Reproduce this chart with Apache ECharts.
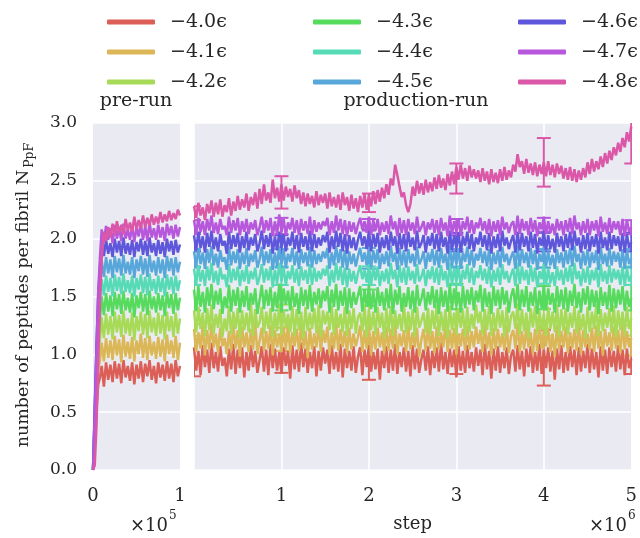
<!DOCTYPE html>
<html><head><meta charset="utf-8">
<script src="https://cdn.jsdelivr.net/npm/echarts@6/dist/echarts.min.js"></script>
<style>html,body{margin:0;padding:0;background:#fff}#c{width:640px;height:538px}</style>
</head><body><div id="c"></div>
<script>
const seriesNames = ['−4.0ϵ','−4.1ϵ','−4.2ϵ','−4.3ϵ','−4.4ϵ','−4.5ϵ','−4.6ϵ','−4.7ϵ','−4.8ϵ'];
const seriesColors = ['#db5f57','#dbb757','#a7db57','#57db5f','#57dbb7','#57a7db','#5f57db','#b757db','#db57a7'];
const yTickLabels = ['0.0','0.5','1.0','1.5','2.0','2.5','3.0'];
const preTickLabels = ['0','1'];
const prodTickLabels = ['','1','2','3','4','5'];

// pre-run (steps 0 .. 1e5)
const preSteps = [0,2000,4000,6000,8000,10000,12500,15000,17500,20000,22500,25000,27500,30000,32500,35000,37500,40000,42500,45000,47500,50000,52500,55000,57500,60000,62500,65000,67500,70000,72500,75000,77500,80000,82500,85000,87500,90000,92500,95000,97500,100000];
const pre40 = [0,0.22,0.52,0.74,0.80,0.90,0.72,0.93,0.78,0.91,0.76,0.94,0.79,0.92,0.75,0.95,0.80,0.90,0.77,0.93,0.74,0.91,0.79,0.94,0.76,0.92,0.81,0.95,0.78,0.90,0.75,0.93,0.80,0.91,0.77,0.94,0.79,0.92,0.76,0.95,0.81,0.90];
const pre41 = [0,0.28,0.60,0.86,0.95,1.10,0.94,1.14,0.97,1.12,0.95,1.16,0.99,1.13,0.93,1.17,0.98,1.11,0.96,1.15,0.94,1.12,1.00,1.18,0.97,1.14,0.95,1.16,0.99,1.11,0.96,1.15,0.98,1.13,0.94,1.17,1.00,1.12,0.97,1.16,0.95,1.10];
const pre42 = [0,0.33,0.70,1.00,1.12,1.32,1.14,1.35,1.17,1.33,1.13,1.37,1.19,1.34,1.15,1.38,1.18,1.31,1.16,1.36,1.12,1.33,1.20,1.37,1.17,1.35,1.14,1.38,1.19,1.32,1.16,1.36,1.18,1.34,1.13,1.37,1.20,1.33,1.15,1.36,1.18,1.31];
const pre43 = [0,0.38,0.80,1.15,1.30,1.50,1.34,1.53,1.37,1.51,1.33,1.54,1.39,1.52,1.35,1.55,1.38,1.49,1.36,1.53,1.32,1.51,1.40,1.54,1.37,1.52,1.34,1.55,1.39,1.50,1.36,1.53,1.38,1.51,1.33,1.54,1.40,1.52,1.35,1.53,1.38,1.49];
const pre44 = [0,0.44,0.90,1.28,1.46,1.65,1.51,1.68,1.54,1.66,1.50,1.69,1.55,1.67,1.52,1.70,1.54,1.64,1.53,1.68,1.50,1.66,1.56,1.69,1.53,1.67,1.51,1.70,1.55,1.65,1.52,1.68,1.54,1.66,1.50,1.69,1.56,1.67,1.52,1.68,1.55,1.64];
const pre45 = [0,0.50,1.00,1.40,1.60,1.81,1.67,1.84,1.70,1.82,1.66,1.85,1.71,1.83,1.68,1.86,1.70,1.80,1.69,1.84,1.66,1.82,1.72,1.85,1.69,1.83,1.67,1.86,1.71,1.81,1.68,1.84,1.70,1.82,1.66,1.85,1.72,1.83,1.68,1.84,1.71,1.80];
const pre46 = [0,0.55,1.08,1.52,1.74,1.97,1.85,1.99,1.87,1.96,1.84,2.00,1.88,1.98,1.85,2.01,1.87,1.96,1.86,1.99,1.84,1.97,1.89,2.00,1.86,1.98,1.85,2.01,1.88,1.96,1.85,1.99,1.87,1.97,1.84,2.00,1.89,1.98,1.86,1.99,1.88,1.95];
const pre47 = [0,0.50,1.04,1.54,1.84,2.08,1.97,2.11,1.99,2.09,1.96,2.12,2.00,2.10,1.98,2.13,2.00,2.08,1.99,2.11,1.97,2.10,2.02,2.13,1.99,2.11,1.98,2.14,2.01,2.09,1.99,2.12,2.01,2.10,1.98,2.13,2.03,2.11,2.00,2.12,2.02,2.10];
const pre48 = [0,0.04,0.38,0.92,1.45,1.82,2.06,1.98,2.10,2.01,2.13,2.03,2.15,2.05,2.12,2.04,2.17,2.07,2.14,2.06,2.19,2.08,2.16,2.09,2.20,2.10,2.18,2.11,2.21,2.12,2.19,2.13,2.23,2.14,2.21,2.15,2.24,2.16,2.22,2.17,2.25,2.20];

// production-run (steps 0 .. 5e6, one value every 25000 steps)
const prodStepSize = 25000;
const prod40 = [1.06,0.86,1.03,0.82,1.08,0.89,1.04,0.84,1.10,0.88,
1.02,0.85,1.07,0.90,0.97,0.81,1.05,0.87,1.09,0.83,
1.04,0.88,1.06,0.80,1.02,0.86,1.08,0.89,1.03,0.84,
0.95,1.07,0.85,1.04,0.82,1.09,0.88,1.05,0.86,1.02,
0.83,1.06,0.90,1.03,0.79,1.08,0.87,1.04,0.85,1.10,
0.89,1.05,0.84,1.02,0.88,1.07,0.81,1.03,0.86,1.06,
0.92,1.04,0.83,1.08,0.87,1.02,0.85,1.09,0.80,1.05,
0.88,1.03,0.86,1.07,0.84,0.98,1.06,0.82,1.04,0.89,
1.08,0.85,1.02,0.87,1.05,0.78,1.03,0.88,1.07,0.84,
1.04,0.86,1.09,0.83,1.02,0.89,1.06,0.85,1.03,0.81,
1.08,0.87,1.05,0.84,0.96,1.04,0.86,1.07,0.82,1.03,
0.88,1.06,0.85,1.10,0.87,1.02,0.83,1.05,0.89,1.04,
0.80,1.07,0.86,1.03,0.84,1.08,0.88,1.02,0.85,1.06,
0.90,1.04,0.82,1.09,0.87,1.03,0.79,1.05,0.86,1.07,
0.84,1.02,0.88,1.06,0.83,0.99,1.04,0.85,1.08,0.87,
1.03,0.81,1.05,0.89,1.07,0.84,1.02,0.86,1.09,0.83,
1.04,0.88,1.06,0.85,1.03,0.78,1.05,0.87,1.08,0.84,
1.02,0.86,1.07,0.89,1.04,0.82,1.06,0.85,1.03,0.88,
1.09,0.84,1.05,0.87,1.02,0.80,1.07,0.86,1.04,0.83,
1.06,0.89,1.03,0.85,1.08,0.87,1.04,0.82,1.05,0.88,0.96];
const prod41 = [1.22,1.02,1.19,1.05,1.25,0.99,1.21,1.04,1.27,1.06,
1.18,1.01,1.23,1.07,1.14,1.00,1.20,1.03,1.26,1.05,
1.21,0.98,1.24,1.06,1.19,1.02,1.22,1.04,1.28,1.00,
1.12,1.23,1.03,1.20,1.05,1.25,0.99,1.21,1.06,1.18,
1.02,1.24,1.04,1.27,1.01,1.19,1.07,1.22,1.03,1.26,
1.05,1.20,0.97,1.23,1.04,1.18,1.06,1.25,1.02,1.21,
1.10,1.24,1.00,1.19,1.05,1.27,1.03,1.22,1.06,1.20,
1.01,1.23,1.04,1.18,1.07,1.15,1.25,1.02,1.21,1.05,
1.26,0.99,1.20,1.04,1.23,1.06,1.19,1.01,1.24,1.03,
1.22,1.05,1.28,1.00,1.18,1.07,1.21,1.02,1.25,1.04,
1.19,1.06,1.23,0.98,1.13,1.22,1.03,1.26,1.05,1.20,
1.01,1.24,1.04,1.19,1.06,1.27,1.02,1.21,1.05,1.23,
1.00,1.18,1.07,1.22,1.03,1.25,1.04,1.20,1.06,1.24,
1.09,1.21,1.02,1.26,1.05,1.19,0.99,1.23,1.04,1.22,
1.06,1.18,1.03,1.25,1.01,1.16,1.21,1.05,1.27,1.02,
1.20,1.04,1.24,1.06,1.19,1.00,1.22,1.03,1.26,1.05,
1.21,1.07,1.23,1.02,1.18,0.98,1.25,1.04,1.20,1.06,
1.24,1.01,1.19,1.05,1.22,1.03,1.27,1.00,1.21,1.06,
1.18,1.04,1.23,1.02,1.25,1.05,1.20,0.99,1.22,1.07,
1.19,1.03,1.24,1.05,1.21,1.01,1.26,1.04,1.20,1.06,1.14];
const prod42 = [1.38,1.19,1.41,1.22,1.36,1.16,1.40,1.21,1.43,1.18,
1.35,1.23,1.39,1.15,1.31,1.20,1.42,1.17,1.37,1.22,
1.40,1.14,1.38,1.21,1.36,1.19,1.44,1.16,1.39,1.23,
1.28,1.41,1.18,1.37,1.22,1.40,1.15,1.36,1.20,1.43,
1.17,1.38,1.23,1.35,1.19,1.42,1.16,1.39,1.21,1.37,
1.14,1.41,1.20,1.36,1.22,1.40,1.18,1.43,1.15,1.38,
1.26,1.37,1.21,1.42,1.17,1.39,1.23,1.35,1.19,1.41,
1.16,1.38,1.22,1.40,1.18,1.32,1.36,1.20,1.43,1.15,
1.39,1.21,1.37,1.17,1.41,1.23,1.36,1.14,1.40,1.19,
1.42,1.16,1.38,1.22,1.35,1.20,1.44,1.18,1.37,1.21,
1.39,1.15,1.41,1.23,1.29,1.36,1.19,1.40,1.17,1.38,
1.22,1.43,1.16,1.37,1.20,1.39,1.14,1.42,1.21,1.36,
1.18,1.40,1.23,1.38,1.15,1.41,1.19,1.35,1.22,1.43,
1.27,1.37,1.17,1.39,1.21,1.42,1.16,1.36,1.20,1.40,
1.23,1.38,1.15,1.41,1.19,1.33,1.37,1.22,1.44,1.17,
1.39,1.20,1.36,1.14,1.40,1.23,1.42,1.18,1.38,1.21,
1.35,1.16,1.41,1.22,1.37,1.19,1.43,1.15,1.39,1.20,
1.40,1.17,1.36,1.23,1.42,1.18,1.38,1.21,1.35,1.14,
1.41,1.19,1.37,1.22,1.43,1.16,1.39,1.20,1.36,1.23,
1.40,1.18,1.42,1.15,1.38,1.21,1.37,1.17,1.41,1.22,1.31];
const prod43 = [1.56,1.38,1.59,1.41,1.54,1.36,1.58,1.42,1.61,1.39,
1.55,1.43,1.57,1.35,1.50,1.40,1.60,1.37,1.56,1.42,
1.58,1.36,1.55,1.41,1.59,1.38,1.53,1.43,1.57,1.35,
1.47,1.60,1.39,1.56,1.42,1.58,1.37,1.54,1.40,1.61,
1.36,1.57,1.43,1.55,1.38,1.59,1.41,1.53,1.35,1.58,
1.42,1.56,1.39,1.60,1.37,1.54,1.43,1.57,1.40,1.55,
1.46,1.59,1.36,1.56,1.41,1.61,1.38,1.55,1.42,1.58,
1.35,1.57,1.40,1.54,1.43,1.51,1.59,1.37,1.56,1.41,
1.60,1.39,1.55,1.36,1.58,1.42,1.54,1.38,1.57,1.40,
1.61,1.35,1.56,1.43,1.59,1.37,1.53,1.41,1.58,1.39,
1.55,1.36,1.60,1.42,1.48,1.57,1.38,1.54,1.43,1.59,
1.40,1.56,1.35,1.58,1.41,1.55,1.37,1.61,1.39,1.57,
1.42,1.54,1.36,1.59,1.40,1.56,1.43,1.58,1.38,1.55,
1.45,1.60,1.37,1.57,1.41,1.54,1.35,1.59,1.42,1.56,
1.39,1.58,1.43,1.55,1.36,1.50,1.57,1.40,1.61,1.38,
1.56,1.41,1.59,1.37,1.54,1.42,1.58,1.35,1.55,1.40,
1.60,1.38,1.57,1.43,1.53,1.36,1.59,1.41,1.56,1.39,
1.58,1.37,1.55,1.42,1.61,1.40,1.54,1.36,1.57,1.43,
1.59,1.38,1.56,1.41,1.55,1.35,1.58,1.42,1.54,1.39,
1.60,1.37,1.57,1.40,1.56,1.43,1.59,1.38,1.55,1.41,1.49];
const prod44 = [1.74,1.61,1.77,1.63,1.73,1.59,1.76,1.64,1.79,1.62,
1.72,1.60,1.75,1.65,1.69,1.58,1.78,1.62,1.74,1.64,
1.76,1.59,1.73,1.63,1.77,1.61,1.72,1.65,1.75,1.60,
1.67,1.78,1.62,1.74,1.64,1.76,1.58,1.73,1.61,1.79,
1.63,1.75,1.60,1.72,1.65,1.77,1.62,1.74,1.59,1.76,
1.64,1.73,1.61,1.78,1.60,1.75,1.63,1.72,1.65,1.74,
1.68,1.77,1.59,1.73,1.62,1.79,1.64,1.76,1.60,1.75,
1.58,1.74,1.63,1.72,1.61,1.70,1.77,1.65,1.73,1.62,
1.78,1.60,1.75,1.64,1.76,1.59,1.72,1.63,1.74,1.61,
1.79,1.65,1.73,1.58,1.77,1.62,1.75,1.60,1.76,1.64,
1.72,1.61,1.78,1.63,1.67,1.74,1.59,1.73,1.65,1.76,
1.62,1.75,1.60,1.77,1.64,1.72,1.58,1.79,1.61,1.74,
1.63,1.76,1.59,1.73,1.65,1.78,1.62,1.75,1.60,1.72,
1.66,1.77,1.64,1.74,1.61,1.76,1.58,1.73,1.63,1.75,
1.60,1.78,1.65,1.72,1.62,1.69,1.74,1.59,1.79,1.61,
1.76,1.64,1.73,1.60,1.77,1.63,1.75,1.58,1.72,1.65,
1.78,1.61,1.74,1.62,1.71,1.59,1.76,1.64,1.73,1.60,
1.75,1.63,1.77,1.61,1.79,1.65,1.72,1.59,1.74,1.62,
1.76,1.60,1.73,1.64,1.75,1.58,1.78,1.63,1.72,1.61,
1.77,1.62,1.74,1.65,1.73,1.60,1.76,1.59,1.75,1.63,1.68];
const prod45 = [1.89,1.76,1.92,1.78,1.88,1.74,1.91,1.79,1.94,1.77,
1.87,1.75,1.90,1.80,1.84,1.73,1.93,1.77,1.89,1.79,
1.91,1.74,1.88,1.78,1.92,1.76,1.87,1.80,1.90,1.75,
1.82,1.93,1.77,1.89,1.79,1.91,1.73,1.88,1.76,1.94,
1.78,1.90,1.75,1.87,1.80,1.92,1.77,1.89,1.74,1.91,
1.79,1.88,1.76,1.93,1.75,1.90,1.78,1.87,1.80,1.89,
1.83,1.92,1.74,1.88,1.77,1.94,1.79,1.91,1.75,1.90,
1.73,1.89,1.78,1.87,1.76,1.85,1.92,1.80,1.88,1.77,
1.93,1.75,1.90,1.79,1.91,1.74,1.87,1.78,1.89,1.76,
1.94,1.80,1.88,1.73,1.92,1.77,1.90,1.75,1.91,1.79,
1.87,1.76,1.93,1.78,1.82,1.89,1.74,1.88,1.80,1.91,
1.77,1.90,1.75,1.92,1.79,1.87,1.73,1.94,1.76,1.89,
1.78,1.91,1.74,1.88,1.80,1.93,1.77,1.90,1.75,1.87,
1.81,1.92,1.79,1.89,1.76,1.91,1.73,1.88,1.78,1.90,
1.75,1.93,1.80,1.87,1.77,1.84,1.89,1.74,1.94,1.76,
1.91,1.79,1.88,1.75,1.92,1.78,1.90,1.73,1.87,1.80,
1.93,1.76,1.89,1.77,1.86,1.74,1.91,1.79,1.88,1.75,
1.90,1.78,1.92,1.76,1.94,1.80,1.87,1.74,1.89,1.77,
1.91,1.75,1.88,1.79,1.90,1.73,1.93,1.78,1.87,1.76,
1.92,1.77,1.89,1.80,1.88,1.75,1.91,1.74,1.90,1.78,1.83];
const prod46 = [2.03,1.90,2.06,1.92,2.02,1.88,2.05,1.93,2.07,1.91,
2.01,1.89,2.04,1.94,1.98,1.87,2.06,1.91,2.03,1.93,
2.05,1.88,2.02,1.92,2.06,1.90,2.01,1.94,2.04,1.89,
1.96,2.07,1.91,2.03,1.93,2.05,1.87,2.02,1.90,2.06,
1.92,2.04,1.89,2.01,1.94,2.06,1.91,2.03,1.88,2.05,
1.93,2.02,1.90,2.07,1.89,2.04,1.92,2.01,1.94,2.03,
1.97,2.06,1.88,2.02,1.91,2.07,1.93,2.05,1.89,2.04,
1.87,2.03,1.92,2.01,1.90,1.99,2.06,1.94,2.02,1.91,
2.07,1.89,2.04,1.93,2.05,1.88,2.01,1.92,2.03,1.90,
2.06,1.94,2.02,1.87,2.05,1.91,2.04,1.89,2.06,1.93,
2.01,1.90,2.07,1.92,1.96,2.03,1.88,2.02,1.94,2.05,
1.91,2.04,1.89,2.06,1.93,2.01,1.87,2.07,1.90,2.03,
1.92,2.05,1.88,2.02,1.94,2.06,1.91,2.04,1.89,2.01,
1.95,2.06,1.93,2.03,1.90,2.05,1.87,2.02,1.92,2.04,
1.89,2.07,1.94,2.01,1.91,1.98,2.03,1.88,2.06,1.90,
2.05,1.93,2.02,1.89,2.06,1.92,2.04,1.87,2.01,1.94,
2.07,1.90,2.03,1.91,2.00,1.88,2.05,1.93,2.02,1.89,
2.04,1.92,2.06,1.90,2.07,1.94,2.01,1.88,2.03,1.91,
2.05,1.89,2.02,1.93,2.04,1.87,2.06,1.92,2.01,1.90,
2.06,1.91,2.03,1.94,2.02,1.89,2.05,1.88,2.04,1.92,1.97];
const prod47 = [2.16,2.04,2.18,2.06,2.15,2.03,2.17,2.07,2.20,2.05,
2.14,2.04,2.17,2.08,2.11,2.03,2.19,2.05,2.16,2.07,
2.18,2.03,2.15,2.06,2.17,2.04,2.14,2.08,2.16,2.03,
2.10,2.19,2.05,2.16,2.07,2.18,2.02,2.15,2.04,2.21,
2.06,2.17,2.03,2.14,2.08,2.18,2.05,2.16,2.03,2.17,
2.07,2.15,2.04,2.19,2.03,2.16,2.06,2.14,2.08,2.15,
2.11,2.18,2.03,2.15,2.05,2.20,2.07,2.17,2.04,2.16,
2.02,2.15,2.06,2.14,2.04,2.12,2.18,2.08,2.15,2.05,
2.19,2.03,2.16,2.07,2.17,2.03,2.14,2.06,2.15,2.04,
2.20,2.08,2.15,2.02,2.18,2.05,2.16,2.03,2.17,2.07,
2.14,2.04,2.19,2.06,2.10,2.15,2.03,2.14,2.08,2.17,
2.05,2.16,2.03,2.18,2.07,2.14,2.02,2.20,2.04,2.15,
2.06,2.17,2.03,2.15,2.08,2.19,2.05,2.16,2.04,2.14,
2.09,2.18,2.07,2.15,2.04,2.17,2.02,2.15,2.06,2.16,
2.03,2.19,2.08,2.14,2.05,2.12,2.15,2.03,2.20,2.04,
2.17,2.07,2.15,2.03,2.18,2.06,2.16,2.02,2.14,2.08,
2.19,2.04,2.15,2.05,2.13,2.03,2.17,2.07,2.15,2.03,
2.16,2.06,2.18,2.04,2.20,2.08,2.14,2.03,2.15,2.05,
2.17,2.03,2.15,2.07,2.16,2.02,2.19,2.06,2.14,2.04,
2.18,2.05,2.15,2.08,2.15,2.03,2.17,2.02,2.16,2.06,2.10];
const prod48 = [2.28,2.18,2.31,2.20,2.27,2.16,2.30,2.22,2.33,2.19,
2.31,2.21,2.34,2.19,2.29,2.23,2.35,2.20,2.32,2.24,
2.37,2.25,2.34,2.27,2.39,2.24,2.36,2.29,2.40,2.26,
2.43,2.30,2.47,2.33,2.40,2.31,2.51,2.35,2.44,2.32,
2.47,2.33,2.45,2.36,2.43,2.32,2.46,2.35,2.42,2.30,
2.40,2.28,2.39,2.30,2.37,2.27,2.41,2.29,2.38,2.31,
2.39,2.26,2.40,2.28,2.36,2.27,2.38,2.25,2.40,2.29,
2.36,2.24,2.38,2.26,2.35,2.23,2.37,2.27,2.39,2.25,
2.38,2.28,2.41,2.30,2.42,2.32,2.44,2.35,2.47,2.38,
2.52,2.46,2.64,2.55,2.45,2.36,2.40,2.29,2.23,2.30,
2.45,2.37,2.50,2.39,2.48,2.38,2.51,2.40,2.49,2.41,
2.53,2.43,2.55,2.44,2.52,2.42,2.56,2.46,2.58,2.47,
2.62,2.51,2.64,2.52,2.61,2.50,2.63,2.53,2.60,2.52,
2.59,2.49,2.61,2.50,2.58,2.47,2.60,2.49,2.57,2.48,
2.60,2.50,2.62,2.51,2.59,2.53,2.64,2.58,2.73,2.62,
2.67,2.56,2.69,2.57,2.65,2.55,2.66,2.54,2.64,2.56,
2.66,2.54,2.67,2.55,2.64,2.53,2.65,2.56,2.63,2.52,
2.61,2.51,2.62,2.50,2.60,2.49,2.59,2.51,2.61,2.53,
2.66,2.56,2.69,2.58,2.67,2.60,2.71,2.62,2.74,2.65,
2.76,2.68,2.79,2.72,2.83,2.75,2.87,2.79,2.92,2.84,2.97];

// error bars on the production run
const errSteps = [0,1000000,2000000,3000000,4000000,5000000];
const errMid40 = [0.97,0.98,0.96,0.98,0.97,0.98], errHalf40 = [0.16,0.14,0.18,0.15,0.24,0.15];
const errMid41 = [1.12,1.13,1.12,1.13,1.13,1.12], errHalf41 = [0.14,0.10,0.14,0.16,0.16,0.13];
const errMid42 = [1.30,1.30,1.30,1.31,1.30,1.30], errHalf42 = [0.14,0.13,0.16,0.14,0.14,0.14];
const errMid43 = [1.49,1.49,1.49,1.50,1.49,1.49], errHalf43 = [0.11,0.11,0.07,0.11,0.10,0.11];
const errMid44 = [1.68,1.68,1.68,1.68,1.68,1.68], errHalf44 = [0.08,0.08,0.08,0.08,0.07,0.08];
const errMid45 = [1.83,1.83,1.83,1.83,1.83,1.83], errHalf45 = [0.08,0.08,0.09,0.08,0.08,0.08];
const errMid46 = [1.97,1.93,1.96,1.97,1.97,1.97], errHalf46 = [0.08,0.10,0.12,0.08,0.08,0.08];
const errMid47 = [2.10,2.11,2.12,2.10,2.12,2.10], errHalf47 = [0.06,0.07,0.05,0.07,0.06,0.06];
const errMid48 = [2.22,2.40,2.31,2.52,2.66,2.85], errHalf48 = [0.06,0.14,0.08,0.13,0.21,0.20];

const preAll = [pre40,pre41,pre42,pre43,pre44,pre45,pre46,pre47,pre48];
const prodAll = [prod40,prod41,prod42,prod43,prod44,prod45,prod46,prod47,prod48];
const errMidAll = [errMid40,errMid41,errMid42,errMid43,errMid44,errMid45,errMid46,errMid47,errMid48];
const errHalfAll = [errHalf40,errHalf41,errHalf42,errHalf43,errHalf44,errHalf45,errHalf46,errHalf47,errHalf48];

const FONT = 'DejaVu Serif';
const TXT = '#262626';
const chart = echarts.init(document.getElementById('c'), null, {renderer:'canvas'});

function renderErr(params, api) {
  const x = api.value(0), lo = api.value(1), hi = api.value(2);
  const a = api.coord([x, lo]), b = api.coord([x, hi]);
  const cap = 7;
  const style = {stroke: api.visual('color'), lineWidth: 2};
  return {type:'group', children:[
    {type:'line', shape:{x1:a[0],y1:a[1],x2:b[0],y2:b[1]}, style},
    {type:'line', shape:{x1:a[0]-cap,y1:a[1],x2:a[0]+cap,y2:a[1]}, style},
    {type:'line', shape:{x1:b[0]-cap,y1:b[1],x2:b[0]+cap,y2:b[1]}, style}
  ]};
}

const series = [];
seriesNames.forEach((name, i) => {
  series.push({
    name, type:'line', xAxisIndex:0, yAxisIndex:0, color: seriesColors[i],
    data: preSteps.map((s, j) => [s, preAll[i][j]]),
    symbol:'none', lineStyle:{width:2.5}, clip:true
  });
  series.push({
    name, type:'line', xAxisIndex:1, yAxisIndex:1, color: seriesColors[i],
    data: prodAll[i].map((v, j) => [j * prodStepSize, v]),
    symbol:'none', lineStyle:{width:2.5}, clip:true
  });
  series.push({
    name, type:'custom', xAxisIndex:1, yAxisIndex:1, color: seriesColors[i],
    renderItem: renderErr, clip:true,
    encode:{x:0, y:[1,2]},
    data: errSteps.map((s, j) => [s, errMidAll[i][j]-errHalfAll[i][j], errMidAll[i][j]+errHalfAll[i][j]])
  });
});

const axisCommon = {
  axisLine:{show:false}, axisTick:{show:false},
  splitLine:{show:true, lineStyle:{color:'#ffffff', width:1.6}}
};

function legendCol(left, names) {
  return {
    orient:'vertical', left, top:7, itemWidth:48, itemHeight:5, itemGap:10,
    icon:'roundRect', data:names, selectedMode:false,
    formatter: '{t|{name}}',
    textStyle:{fontFamily:FONT, fontSize:19, color:TXT, lineHeight:20,
      rich:{t:{fontFamily:FONT, fontSize:19, color:TXT, lineHeight:20, padding:[0,0,0,10]}}}
  };
}

const option = {
  animation:false,
  backgroundColor:'#ffffff',
  legend:[
    legendCol(102, seriesNames.slice(0,3)),
    legendCol(308, seriesNames.slice(3,6)),
    legendCol(513, seriesNames.slice(6,9))
  ],
  grid:[
    {left:93, top:123, width:87, height:347, show:true, backgroundColor:'#eaeaf2', borderWidth:0},
    {left:194, top:123, width:445, height:347, show:true, backgroundColor:'#eaeaf2', borderWidth:0}
  ],
  xAxis:[
    Object.assign({}, axisCommon, {gridIndex:0, type:'value', min:0, max:100000, interval:100000,
      splitLine:{show:false},
      axisLabel:{margin:17, fontFamily:FONT, fontSize:18, color:TXT,
        formatter:(v) => preTickLabels[Math.round(v/100000)]}}),
    Object.assign({}, axisCommon, {gridIndex:1, type:'value', min:0, max:5000000, interval:1000000,
      name:'step', nameLocation:'middle', nameGap:45,
      nameTextStyle:{fontFamily:FONT, fontSize:18, color:TXT},
      axisLabel:{margin:17, fontFamily:FONT, fontSize:18, color:TXT,
        formatter:(v) => prodTickLabels[Math.round(v/1000000)]}})
  ],
  yAxis:[
    Object.assign({}, axisCommon, {gridIndex:0, type:'value', min:0, max:3, interval:0.5,
      axisLabel:{margin:16, fontFamily:FONT, fontSize:17, color:TXT,
        formatter:(v) => yTickLabels[Math.round(v*2)]}}),
    Object.assign({}, axisCommon, {gridIndex:1, type:'value', min:0, max:3, interval:0.5,
      axisLabel:{show:false}})
  ],
  graphic:[
    {type:'text', x:23, y:295, rotation:Math.PI/2, style:{
      text:'{a|number of peptides per fibril N}{b|PpF}', align:'center', verticalAlign:'middle',
      rich:{
        a:{fontFamily:FONT, fontSize:17.5, fill:TXT, lineHeight:26, verticalAlign:'middle'},
        b:{fontFamily:FONT, fontSize:12.5, fill:TXT, lineHeight:26, verticalAlign:'bottom', padding:[0,0,0,2]}
      }}},
    {type:'text', x:136, y:101, style:{text:'pre-run', font:'19px "DejaVu Serif"', fill:TXT, align:'center', verticalAlign:'middle'}},
    {type:'text', x:416, y:101, style:{text:'production-run', font:'19px "DejaVu Serif"', fill:TXT, align:'center', verticalAlign:'middle'}},
    {type:'text', x:168, y:526, style:{text:'×10', font:'18px "DejaVu Serif"', fill:TXT, align:'right', verticalAlign:'middle'}},
    {type:'text', x:169, y:516, style:{text:'5', font:'12px "DejaVu Serif"', fill:TXT, align:'left', verticalAlign:'middle'}},
    {type:'text', x:627, y:526, style:{text:'×10', font:'18px "DejaVu Serif"', fill:TXT, align:'right', verticalAlign:'middle'}},
    {type:'text', x:628, y:516, style:{text:'6', font:'12px "DejaVu Serif"', fill:TXT, align:'left', verticalAlign:'middle'}}
  ],
  series
};
chart.setOption(option);
</script></body></html>
